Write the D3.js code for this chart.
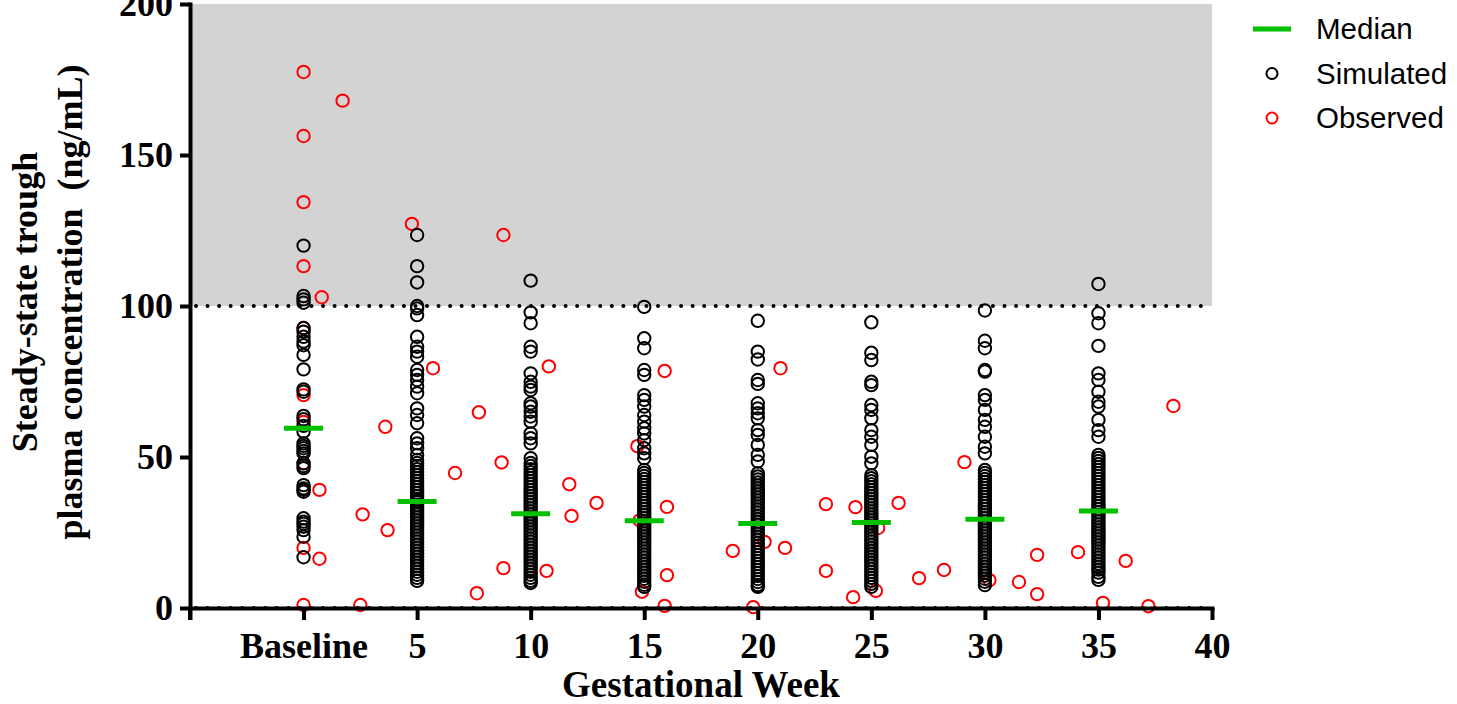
<!DOCTYPE html>
<html>
<head>
<meta charset="utf-8">
<script src="https://cdn.jsdelivr.net/npm/d3@7"></script>
<style>
  body { margin: 0; background: #fff; }
  svg text { font-family: "Liberation Serif", "Times New Roman", serif; font-weight: bold; }
  .legend text { font-family: "Liberation Sans", Arial, sans-serif; font-weight: normal; }
</style>
</head>
<body>
<div id="app"></div>
<script>
// weeks of the simulated columns (0 = Baseline)
let weeks = [0, 5, 10, 15, 20, 25, 30, 35];
let xTicks = [-5, 0, 5, 10, 15, 20, 25, 30, 35, 40];
let xTickLabels = ['', 'Baseline', '5', '10', '15', '20', '25', '30', '35', '40'];
let yTicks = [0, 50, 100, 150, 200];

// simulated troughs (ng/mL), one list per week
let sim0 = [120, 103.3, 102.2, 101.1, 92.7, 91.5, 89.8, 88.2, 87, 83.8, 79, 72.4, 71.6, 63.6, 62.5, 60.3, 58.4,
  54.5, 53.7, 52.9, 52, 51.2, 47.9, 47, 46.3, 40.7, 39.6, 39.1, 38.5, 29.7, 28.6, 27.9, 26.9, 25.8, 23.6, 16.8];
let sim5 = [123.5, 113.2, 107.8, 100, 99.2, 97, 89.8, 86.5, 84.9, 83.2, 78.8, 77.2, 75.5, 73.3, 71.1, 66.1, 63.9,
  61.2, 56.2, 54.5, 52.9, 50.7, 49, 48, 47, 46, 45, 44, 43, 42, 41, 40, 39, 38, 37, 36, 35.5, 35, 34, 33, 32, 31,
  30, 29, 28, 27, 26, 25, 24, 23, 22, 21, 20, 19, 18, 17, 16, 15, 14, 13, 12, 11, 10, 9];
let sim10 = [108.4, 97.9, 94.3, 86.5, 84.9, 77.7, 74.9, 73.3, 72.2, 67.8, 66.7, 65, 63.4, 61.7, 57.8, 56.2, 54.5,
  49.6, 48, 47, 46, 45, 44, 43, 42, 41, 40, 39, 38, 37, 36, 35, 34, 33, 32, 31, 30, 29, 28, 27, 26, 25, 24, 23,
  22, 21, 20, 19, 18, 17, 16, 15, 14, 13, 12, 11, 10, 9, 8.3];
let sim15 = [99.7, 89.3, 86, 78.8, 77.2, 70.5, 68.9, 66.7, 63.9, 61.7, 59.5, 57.8, 55.6, 52.9, 51.2, 49.6, 45.7,
  44.7, 43.7, 42.7, 41.7, 40.7, 39.7, 38.7, 37.7, 36.7, 35.7, 34.7, 33.7, 32.7, 31.7, 30.7, 29.7, 28.7, 27.7,
  26.7, 25.7, 24.7, 23.7, 22.7, 21.7, 20.7, 19.7, 18.7, 17.7, 16.7, 15.7, 14.7, 13.7, 12.7, 11.7, 10.7, 9.7,
  8.7, 7.7, 7];
let sim20 = [95.1, 84.9, 82.3, 75.5, 74.2, 67.8, 66.1, 64.5, 62.8, 58.9, 57.3, 54, 50.7, 48.5, 44.6, 43.6, 42.6,
  41.6, 40.6, 39.6, 38.6, 37.6, 36.6, 35.6, 34.6, 33.6, 32.6, 31.6, 30.6, 29.6, 28.6, 27.6, 26.6, 25.6, 24.6,
  23.6, 22.6, 21.6, 20.6, 19.6, 18.6, 17.6, 16.6, 15.6, 14.6, 13.6, 12.6, 11.6, 10.6, 9.6, 8.6, 7.6, 7];
let sim25 = [94.6, 84.5, 82.1, 74.9, 73.8, 67.2, 65.6, 62.8, 58.9, 56.7, 54, 50.1, 47.9, 44, 43, 42, 41, 40, 39,
  38, 37, 36, 35, 34, 33, 32, 31, 30, 29, 28, 27, 26, 25, 24, 23, 22, 21, 20, 19, 18, 17, 16, 15, 14, 13, 12,
  11, 10, 9, 8, 7];
let sim30 = [98.5, 88.5, 86, 78.8, 78.3, 70.5, 68.9, 65.6, 62.3, 60, 56.7, 53.4, 51.2, 45.7, 44.7, 43.7, 42.7,
  41.7, 40.7, 39.7, 38.7, 37.7, 36.7, 35.7, 34.7, 33.7, 32.7, 31.7, 30.7, 29.7, 28.7, 27.7, 26.7, 25.7, 24.7,
  23.7, 22.7, 21.7, 20.7, 19.7, 18.7, 17.7, 16.7, 15.7, 14.7, 13.7, 12.7, 11.7, 10.7, 9.7, 8.7, 7.6];
let sim35 = [107.3, 97.6, 94.3, 86.8, 77.7, 75.5, 71.6, 68.3, 66.7, 62.3, 58.9, 56.7, 50.7, 49.7, 48.7, 47.7,
  46.7, 45.7, 44.7, 43.7, 42.7, 41.7, 40.7, 39.7, 38.7, 37.7, 36.7, 35.7, 34.7, 33.7, 32.7, 31.7, 30.7, 29.7,
  28.7, 27.7, 26.7, 25.7, 24.7, 23.7, 22.7, 21.7, 20.7, 19.7, 18.7, 17.7, 16.7, 15.7, 14.7, 13.7, 12.7, 11.7,
  10.3, 9.3];
let simValues = [sim0, sim5, sim10, sim15, sim20, sim25, sim30, sim35];

// median of the simulated troughs per week
let medians = [59.5, 35.3, 31.2, 28.9, 28.0, 28.3, 29.4, 32.1];

// observed troughs: gestational week and concentration
let obsWeek = [0, 1.72, 0, 0, 0, 0.8, 0, 0, 0, 0, 0.7, 0, 0.7, 0, 2.5, 3.6, 2.6, 3.7, 4.77, 5.7, 6.67, 7.72, 8.72,
  7.63, 8.8, 8.8, 10.8, 11.7, 11.8, 12.9, 10.7, 15.9, 14.7, 16, 16, 14.9, 15.9, 14.8, 18.9, 19.8, 20.3, 21, 21.2,
  23, 23, 24.3, 24.2, 26.2, 25.3, 25.2, 27.1, 28.2, 29.1, 30.2, 31.5, 32.3, 32.3, 34.1, 35.2, 36.2, 37.2, 38.3];
let obsConc = [177.5, 168, 156.3, 134.4, 113.2, 102.9, 92.7, 70.5, 61.6, 48, 39.1, 19.9, 16.3, 1, 1, 60, 31, 25.8,
  127.2, 79.4, 44.7, 64.8, 48.2, 4.9, 123.5, 13.2, 80, 41, 30.5, 34.8, 12.3, 78.5, 53.6, 33.5, 10.9, 5.4, 0.7, 29,
  18.9, 0.3, 21.9, 79.4, 19.9, 34.4, 12.3, 33.4, 3.6, 34.8, 26.5, 5.7, 9.9, 12.6, 48.3, 9.2, 8.6, 17.6, 4.6,
  18.5, 1.7, 15.6, 0.6, 66.9];

let legendItems = ['Median', 'Simulated', 'Observed'];

let W = 1457, H = 704;
let plot = { left: 190, right: 1212, top: 4, bottom: 608 };

let xScale = d3.scaleLinear().domain([-5, 40]).range([plot.left, plot.right]);
let yScale = d3.scaleLinear().domain([0, 200]).range([plot.bottom, plot.top]);

let svg = d3.select('#app').append('svg')
  .attr('width', W)
  .attr('height', H);

// grey band above the 100 ng/mL limit
svg.append('rect')
  .attr('x', xScale(-5))
  .attr('y', yScale(200))
  .attr('width', xScale(40) - xScale(-5))
  .attr('height', yScale(100) - yScale(200))
  .attr('fill', '#d3d3d3');

// dotted reference lines at 100 and 0
[100, 0].forEach((v) => {
  svg.append('line')
    .attr('x1', xScale(-5) + 6)
    .attr('x2', xScale(40))
    .attr('y1', yScale(v))
    .attr('y2', yScale(v))
    .attr('stroke', '#000')
    .attr('stroke-width', 4)
    .attr('stroke-linecap', 'round')
    .attr('stroke-dasharray', '0 11.55');
});

// observed (red) below simulated
let obs = obsWeek.map((w, i) => ({ x: w, y: obsConc[i] }));
svg.append('g').selectAll('circle')
  .data(obs)
  .enter().append('circle')
  .attr('cx', (d) => xScale(d.x))
  .attr('cy', (d) => yScale(d.y))
  .attr('r', 6.2)
  .attr('fill', 'none')
  .attr('stroke', '#ff0000')
  .attr('stroke-width', 2);

let sim = [];
weeks.forEach((w, i) => {
  simValues[i].forEach((v) => sim.push({ x: w, y: v }));
});
svg.append('g').selectAll('circle')
  .data(sim)
  .enter().append('circle')
  .attr('cx', (d) => xScale(d.x))
  .attr('cy', (d) => yScale(d.y))
  .attr('r', 6.2)
  .attr('fill', 'none')
  .attr('stroke', '#000')
  .attr('stroke-width', 2);

// median bars
svg.append('g').selectAll('line')
  .data(weeks)
  .enter().append('line')
  .attr('x1', (d) => xScale(d) - 19.5)
  .attr('x2', (d) => xScale(d) + 19.5)
  .attr('y1', (d, i) => yScale(medians[i]))
  .attr('y2', (d, i) => yScale(medians[i]))
  .attr('stroke', '#00c000')
  .attr('stroke-width', 5);

// axes
let yAxis = d3.axisLeft(yScale)
  .tickValues(yTicks)
  .tickSize(10)
  .tickSizeOuter(0)
  .tickPadding(7);

let xAxis = d3.axisBottom(xScale)
  .tickValues(xTicks)
  .tickFormat((d, i) => xTickLabels[i])
  .tickSize(12)
  .tickSizeOuter(0)
  .tickPadding(12);

let xg = svg.append('g')
  .attr('class', 'x axis')
  .attr('transform', 'translate(0,' + plot.bottom + ')')
  .call(xAxis);

let yg = svg.append('g')
  .attr('class', 'y axis')
  .attr('transform', 'translate(' + plot.left + ',0)')
  .call(yAxis);

[xg, yg].forEach((g) => {
  g.select('.domain').attr('stroke-width', 4).attr('stroke-linecap', 'square');
  g.selectAll('.tick line').attr('stroke-width', 4);
  g.selectAll('.tick text')
    .attr('fill', '#000')
    .style('font-size', '36px')
    .style('font-family', '"Liberation Serif", serif')
    .style('font-weight', 'bold');
});

// extend y axis line down to the end of the x ticks
yg.append('line')
  .attr('x1', 0).attr('x2', 0)
  .attr('y1', plot.bottom).attr('y2', plot.bottom + 12)
  .attr('stroke', '#000')
  .attr('stroke-width', 4);

// axis titles
svg.append('text')
  .attr('x', (plot.left + plot.right) / 2)
  .attr('y', 697)
  .attr('text-anchor', 'middle')
  .style('font-size', '37px')
  .text('Gestational Week');

let yTitle = svg.append('g')
  .attr('transform', 'translate(0,302) rotate(-90)');
yTitle.append('text')
  .attr('x', 0).attr('y', 37)
  .attr('text-anchor', 'middle')
  .style('font-size', '36px')
  .text('Steady-state trough');
yTitle.append('text')
  .attr('x', 0).attr('y', 82)
  .attr('text-anchor', 'middle')
  .style('font-size', '36px')
  .style('white-space', 'pre')
  .text('plasma concentration  (ng/mL)');

// legend
let legend = svg.append('g').attr('class', 'legend');
legendItems.forEach((name, i) => {
  let cy = 29 + i * 44.5;
  if (i === 0) {
    legend.append('line')
      .attr('x1', 1253).attr('x2', 1291)
      .attr('y1', cy).attr('y2', cy)
      .attr('stroke', '#00c000')
      .attr('stroke-width', 5);
  } else {
    legend.append('circle')
      .attr('cx', 1272).attr('cy', cy)
      .attr('r', 5.5)
      .attr('fill', 'none')
      .attr('stroke', i === 1 ? '#000' : '#ff0000')
      .attr('stroke-width', 2);
  }
  legend.append('text')
    .attr('x', 1316)
    .attr('y', cy + 10)
    .style('font-size', '29.5px')
    .attr('fill', '#000')
    .text(name);
});
</script>
</body>
</html>
